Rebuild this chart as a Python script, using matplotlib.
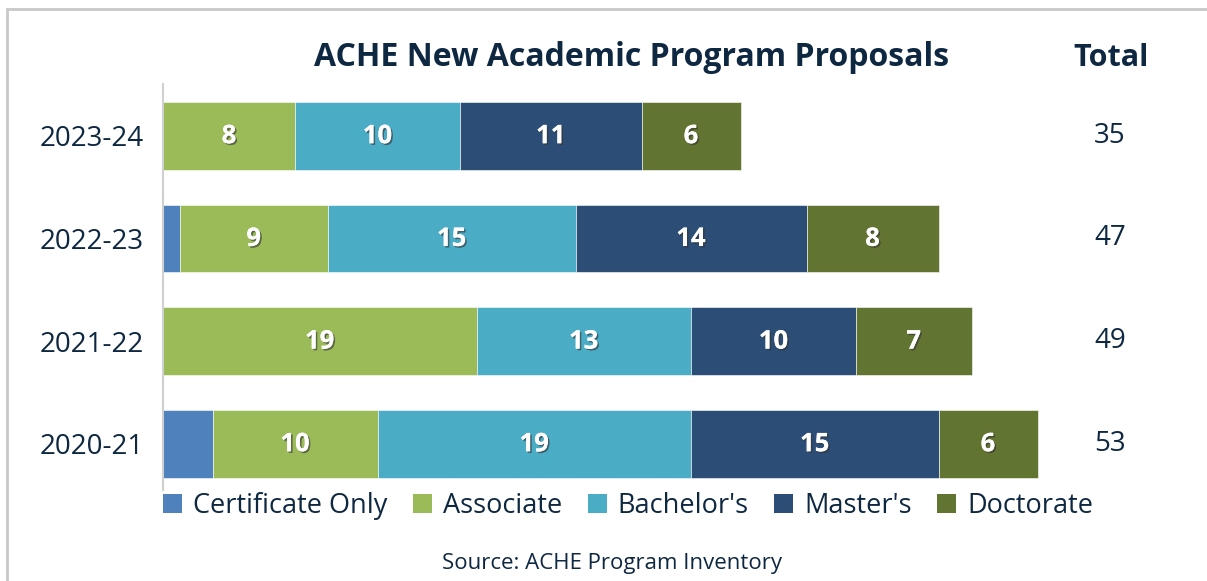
import matplotlib.pyplot as plt
import matplotlib.patheffects as pe
from matplotlib.patches import Rectangle, Patch
import numpy as np

plt.rcParams['font.family'] = ['Open Sans', 'DejaVu Sans']

years = ['2020-21', '2021-22', '2022-23', '2023-24']
series = ['Certificate Only', 'Associate', "Bachelor's", "Master's", 'Doctorate']
cert = [3, 0, 1, 0]
assoc = [10, 19, 9, 8]
bach = [19, 13, 15, 10]
master = [15, 10, 14, 11]
doct = [6, 7, 8, 6]
totals = [53, 49, 47, 35]

colors = ['#4F81BD', '#9BBB59', '#4BACC6', '#2C4D75', '#627431']
navy = '#0E2841'

fig = plt.figure(figsize=(12.07, 5.81), dpi=100)
ax = fig.add_axes([163 / 1207, 91 / 581, 990 / 1207, 405.6 / 581])

shadow = [pe.withSimplePatchShadow(offset=(1.2, -1.2), shadow_rgbFace='#333333', alpha=0.6), pe.Normal()]

y = np.arange(len(years))
left = np.zeros(len(years))
for name, vals, col in zip(series, [cert, assoc, bach, master, doct], colors):
    vals = np.array(vals)
    ax.barh(y, vals, left=left, height=0.66, color=col, edgecolor='white', linewidth=0.4, label=name)
    for yi, v, l in zip(y, vals, left):
        if v > 1 and name != 'Certificate Only':
            ax.text(l + v / 2, yi, str(v), ha='center', va='center', color='white',
                    fontsize=18.5, fontweight='bold', path_effects=shadow)
    left += vals

for yi, t in zip(y, totals):
    ax.text(57.4, yi, str(t), ha='center', va='center', fontsize=20, color=navy)

ax.set_xlim(0, 60)
ax.set_ylim(-0.45, 3.5)
ax.set_yticks(y)
ax.set_yticklabels(years, fontsize=20, color=navy)
ax.tick_params(axis='y', length=0, pad=14)
ax.set_xticks([])
for s in ['top', 'right', 'bottom']:
    ax.spines[s].set_visible(False)
ax.spines['left'].set_color('#D0D0D0')
ax.spines['left'].set_linewidth(1.5)

fig.text(632 / 1207, 1 - 58 / 581, 'ACHE New Academic Program Proposals', ha='center', va='center',
         fontsize=23, fontweight='bold', color=navy)
fig.text(1111 / 1207, 1 - 58 / 581, 'Total', ha='center', va='center',
         fontsize=22, fontweight='bold', color=navy)

handles = [Patch(facecolor=c, label=s) for s, c in zip(series, colors)]
fig.legend(handles=handles, loc='center', bbox_to_anchor=(628 / 1207, 1 - 506 / 581), ncol=5,
           frameon=False, fontsize=19.5, labelcolor=navy, handlelength=0.7, handleheight=0.7,
           handletextpad=0.4, columnspacing=0.95)

fig.text(612 / 1207, 1 - 563 / 581, 'Source: ACHE Program Inventory', ha='center', va='center',
         fontsize=16, color=navy)

fig.patches.append(Rectangle((7 / 1207, -0.1), 1.1, 1.1 - 9 / 581, transform=fig.transFigure,
                             fill=False, edgecolor='#C8C8C8', linewidth=2))

fig.savefig('out.png', dpi=100)
